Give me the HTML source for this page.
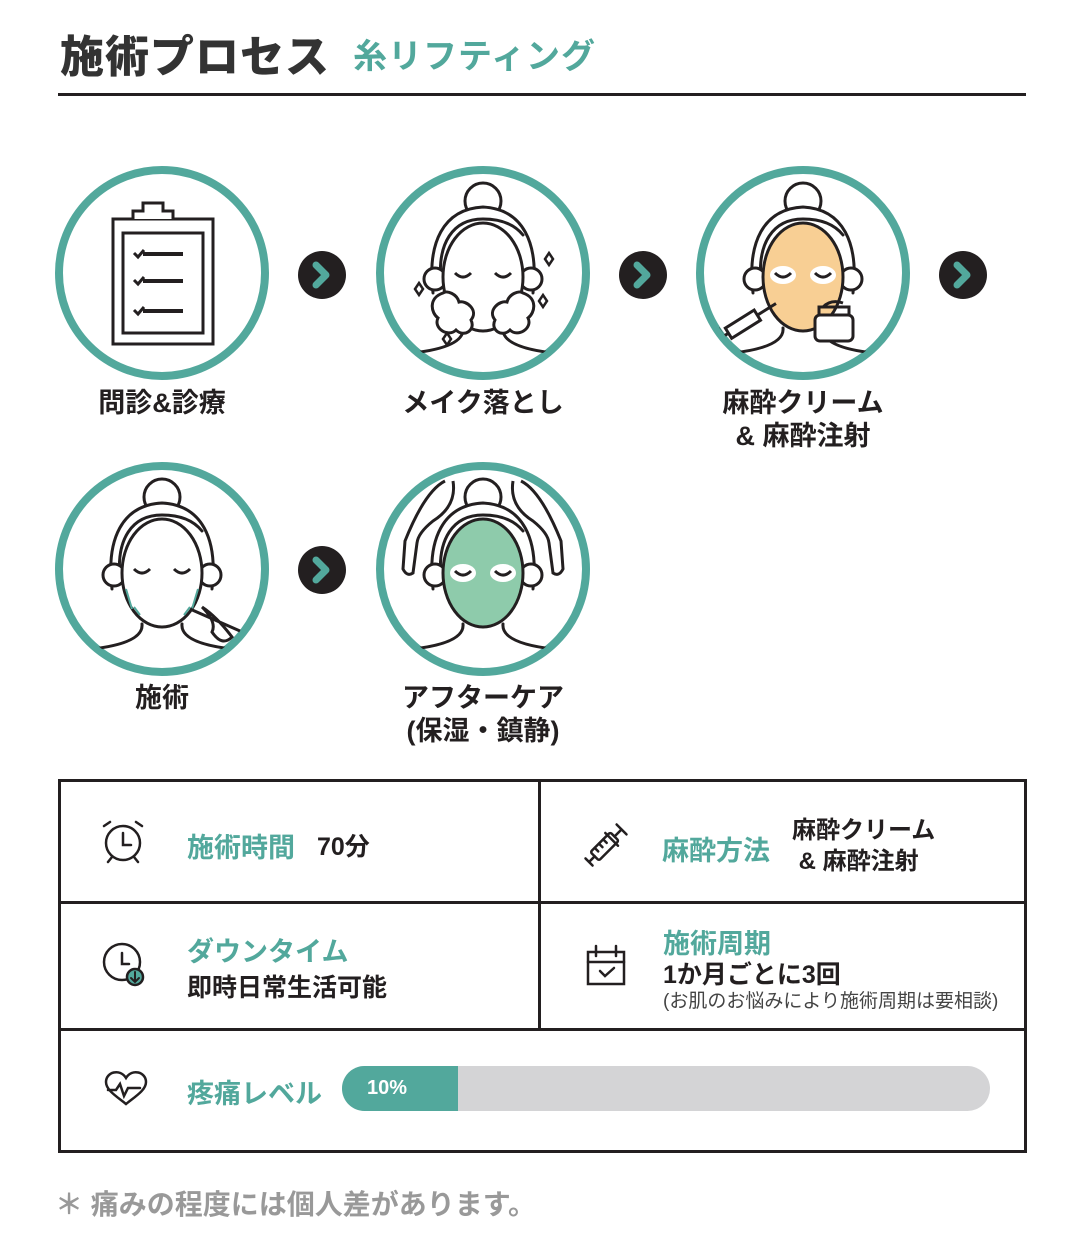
<!DOCTYPE html>
<html><head><meta charset="utf-8">
<style>
*{margin:0;padding:0;box-sizing:border-box}
body{width:1080px;height:1250px;background:#fff;position:relative;font-family:"Liberation Sans","Noto Sans CJK JP",sans-serif;color:#231f20;overflow:hidden}
.a{position:absolute;white-space:nowrap}
.t{color:#52a89c;font-weight:bold}
.lbl{font-size:27px;font-weight:bold;text-align:center;line-height:33px}
</style></head><body>
<div class="a" style="left:60px;top:21px;font-size:44px;font-weight:900;color:#333;letter-spacing:1px">施術プロセス</div>
<div class="a t" style="left:353px;top:29px;font-size:34px;letter-spacing:1px">糸リフティング</div>
<div class="a" style="left:58px;top:93px;width:968px;height:3px;background:#231f20"></div>

<svg class="a" style="left:0;top:0" width="1080" height="780" viewBox="0 0 1080 780">
<defs>
<clipPath id="cc"><circle cx="0" cy="0" r="100"/></clipPath>
<g id="face" fill="none" stroke="#231f20" stroke-width="3" stroke-linecap="round">
  <circle cx="0" cy="-72" r="18" fill="#fff"/>
  <path d="M-50,20 C-56,-30 -40,-64 0,-66 C40,-64 56,-30 50,20" fill="#fff"/>
  <path d="M-42,10 C-46,-30 -30,-54 0,-54 C20,-54 32,-48 40,-38"/>
  <circle cx="-48" cy="6" r="11" fill="#fff"/>
  <circle cx="48" cy="6" r="11" fill="#fff"/>
  <path d="M-20,55 Q-18,74 -70,80 M20,55 Q18,74 70,80"/>
</g>
</defs>
<g stroke="#52a89c" stroke-width="8" fill="#fff">
<circle cx="162" cy="273" r="103"/><circle cx="483" cy="273" r="103"/><circle cx="803" cy="273" r="103"/>
<circle cx="162" cy="569" r="103"/><circle cx="483" cy="569" r="103"/>
</g>
<g fill="none" stroke="#231f20" stroke-width="3">
<rect x="113" y="219" width="100" height="125"/>
<rect x="123" y="233" width="80" height="100"/>
<path d="M133,219 v-8 h10 v-8 h20 v8 h10 v8" fill="#fff"/>
<path d="M143,254 h40 M143,281 h40 M143,311 h40" stroke-width="4"/>
<path d="M134,253 l4,4 l6,-7 M134,280 l4,4 l6,-7 M134,310 l4,4 l6,-7" stroke-width="3"/>
</g>
<g transform="translate(483,273)" clip-path="url(#cc)"><use href="#face"/>
<ellipse cx="0" cy="4" rx="40" ry="54" fill="#fff" stroke="#231f20" stroke-width="3"/>
<path d="M-28,0 q8,8 16,0 M12,0 q8,8 16,0" fill="none" stroke="#231f20" stroke-width="3"/>
<path d="M-40,20 c-15,5 -12,20 -5,25 c-5,10 10,20 18,12 c8,8 20,0 15,-10 c8,-10 -5,-20 -12,-18 c-2,-8 -12,-12 -16,-9z M40,20 c15,5 12,20 5,25 c5,10 -10,20 -18,12 c-8,8 -20,0 -15,-10 c-8,-10 5,-20 12,-18 c2,-8 12,-12 16,-9z" fill="#fff" stroke="#231f20" stroke-width="3"/>
<path d="M-68,16 l4,6 l4,-6 l-4,-6z M62,-14 l4,6 l4,-6 l-4,-6z M56,28 l4,6 l4,-6 l-4,-6z M-40,66 l4,6 l4,-6 l-4,-6z" fill="#fff" stroke="#231f20" stroke-width="2.5"/>
</g>
<g transform="translate(803,273)" clip-path="url(#cc)"><use href="#face"/>
<ellipse cx="0" cy="4" rx="40" ry="54" fill="#f8cf94" stroke="#231f20" stroke-width="3"/>
<ellipse cx="-20" cy="2" rx="13" ry="9" fill="#fff"/><ellipse cx="20" cy="2" rx="13" ry="9" fill="#fff"/>
<path d="M-28,0 q8,8 16,0 M12,0 q8,8 16,0" fill="none" stroke="#231f20" stroke-width="3"/>
<rect x="12" y="42" width="38" height="26" rx="5" fill="#fff" stroke="#231f20" stroke-width="3"/>
<path d="M16,42 v-8 h30 v8 M20,34 q8,-8 20,-4" fill="none" stroke="#231f20" stroke-width="3"/>
<g transform="rotate(-32,-55,48)"><rect x="-78" y="42" width="34" height="12" fill="#fff" stroke="#231f20" stroke-width="3"/><path d="M-44,48 h22 M-84,38 v20 M-84,48 h6" fill="none" stroke="#231f20" stroke-width="3"/></g>
</g>
<g transform="translate(162,569)" clip-path="url(#cc)"><use href="#face"/>
<ellipse cx="0" cy="4" rx="40" ry="54" fill="#fff" stroke="#231f20" stroke-width="3"/>
<path d="M-28,0 q8,8 16,0 M12,0 q8,8 16,0" fill="none" stroke="#231f20" stroke-width="3"/>
<path d="M-30,40 l-6,-20 M-22,46 l-6,-8 M30,40 l6,-20 M22,46 l6,-8" stroke="#52a89c" stroke-width="2"/>
<path d="M28,40 l50,22 M40,38 q15,10 30,30 q-10,10 -20,-5 q5,-10 -10,-25" fill="none" stroke="#231f20" stroke-width="3"/>
</g>
<g transform="translate(483,569)" clip-path="url(#cc)"><use href="#face"/>
<ellipse cx="0" cy="4" rx="40" ry="54" fill="#8ecbab" stroke="#231f20" stroke-width="3"/>
<ellipse cx="-20" cy="4" rx="13" ry="9" fill="#fff"/><ellipse cx="20" cy="4" rx="13" ry="9" fill="#fff"/>
<path d="M-28,2 q8,8 16,0 M12,2 q8,8 16,0" fill="none" stroke="#231f20" stroke-width="3"/>
<path d="M-30,-88 q4,25 -20,40 q-15,12 -16,22 l-4,30 q-6,4 -10,-4 l2,-28 q20,-50 40,-60 M30,-88 q-4,25 20,40 q15,12 16,22 l4,30 q6,4 10,-4 l-2,-28 q-20,-50 -40,-60" fill="none" stroke="#231f20" stroke-width="3"/>
</g>
<g><circle cx="322" cy="275" r="24" fill="#231f20"/><circle cx="643" cy="275" r="24" fill="#231f20"/><circle cx="963" cy="275" r="24" fill="#231f20"/><circle cx="322" cy="570" r="24" fill="#231f20"/></g>
<g fill="none" stroke="#52a89c" stroke-width="7" stroke-linecap="round" stroke-linejoin="round">
<path d="M316,265 l10,10 l-10,10"/><path d="M637,265 l10,10 l-10,10"/><path d="M957,265 l10,10 l-10,10"/><path d="M316,560 l10,10 l-10,10"/>
</g>
</svg>

<div class="a lbl" style="left:62px;top:387px;width:200px">問診&amp;診療</div>
<div class="a lbl" style="left:383px;top:387px;width:200px">メイク落とし</div>
<div class="a lbl" style="left:703px;top:387px;width:200px">麻酔クリーム<br>&amp; 麻酔注射</div>
<div class="a lbl" style="left:62px;top:682px;width:200px">施術</div>
<div class="a lbl" style="left:383px;top:682px;width:200px">アフターケア<br>(保湿・鎮静)</div>

<div class="a" style="left:58px;top:779px;width:969px;height:374px;border:3px solid #231f20"></div>
<div class="a" style="left:58px;top:901px;width:969px;height:3px;background:#231f20"></div>
<div class="a" style="left:58px;top:1028px;width:969px;height:3px;background:#231f20"></div>
<div class="a" style="left:538px;top:779px;width:3px;height:250px;background:#231f20"></div>

<svg class="a" style="left:0;top:780px" width="1080" height="372" viewBox="0 780 1080 372" fill="none" stroke="#231f20" stroke-width="2.5" stroke-linecap="round">
<circle cx="123" cy="843" r="17"/><path d="M123,833 v12 h8 M104,826 l6,-4 M142,826 l-6,-4 M112,857 l-4,5 M134,857 l4,5"/>
<circle cx="122" cy="962" r="18"/><path d="M122,953 v11 h7"/>
<circle cx="135" cy="977" r="8" fill="#52a89c" stroke="#231f20"/><path d="M135,972 v9 M131,978 l4,4 l4,-4" stroke="#231f20" stroke-width="2"/>
<g transform="rotate(-45,606,845)"><rect x="590" y="839" width="28" height="12" rx="2"/><path d="M618,845 h10 M628,838 v14 M614,836 v18 M590,845 h-8 M582,840 v10 M596,839 v5 M602,839 v5 M608,839 v5"/></g>
<rect x="588" y="952" width="36" height="32"/><path d="M588,962 h36 M596,946 v10 M616,946 v10 M600,971 l5,5 l9,-8"/>
<path d="M126,1104 c-10,-8 -20,-14 -20,-22 c0,-10 14,-14 20,-4 c6,-10 20,-6 20,4 c0,8 -10,14 -20,22 z M108,1090 h8 l4,-6 l4,12 l4,-8 h12"/>
</svg>

<div class="a t" style="left:187px;top:826px;font-size:27px">施術時間</div>
<div class="a" style="left:317px;top:827px;font-size:25px;font-weight:bold">70分</div>
<div class="a t" style="left:187px;top:930px;font-size:27px">ダウンタイム</div>
<div class="a" style="left:187px;top:968px;font-size:25px;font-weight:bold">即時日常生活可能</div>
<div class="a t" style="left:662px;top:829px;font-size:27px">麻酔方法</div>
<div class="a" style="left:792px;top:815px;font-size:24px;font-weight:bold;line-height:31px">麻酔クリーム<br>&nbsp;&amp; 麻酔注射</div>
<div class="a t" style="left:663px;top:922px;font-size:27px">施術周期</div>
<div class="a" style="left:663px;top:955px;font-size:25px;font-weight:bold">1か月ごとに3回</div>
<div class="a" style="left:663px;top:986px;font-size:19px;color:#444">(お肌のお悩みにより施術周期は要相談)</div>
<div class="a t" style="left:187px;top:1072px;font-size:27px">疼痛レベル</div>
<div class="a" style="left:342px;top:1066px;width:648px;height:45px;border-radius:23px;background:#d4d4d6;overflow:hidden">
<div style="width:116px;height:45px;background:#52a89c;color:#fff;font-weight:bold;font-size:20px;line-height:45px;padding-left:25px">10%</div></div>

<div class="a" style="left:55px;top:1183px;font-size:28px;font-weight:bold;color:#999">＊ 痛みの程度には個人差があります。</div>
</body></html>
